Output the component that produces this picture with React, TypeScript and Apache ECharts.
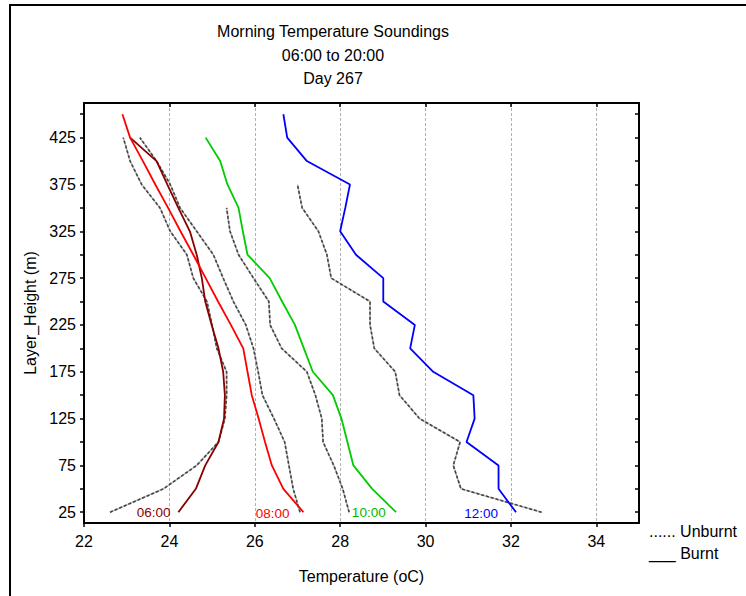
import React, { useEffect, useRef } from 'react';
import * as echarts from 'echarts';

// Heights (m) at which soundings were taken
const HEIGHTS = [25, 50, 75, 100, 125, 150, 175, 200, 225, 250, 275, 300, 325, 350, 375, 400, 425, 450];

// Temperatures (oC), listed from the lowest height upward
const burnt0600 = [24.21, 24.62, 24.84, 25.15, 25.28, 25.3, 25.26, 25.15, 24.99, 24.84, 24.76, 24.64, 24.48, 24.21, 23.95, 23.7, 23.08];
const unburnt0600 = [22.61, 23.86, 24.64, 25.15, 25.3, 25.34, 25.34, 25.11, 25.0, 24.88, 24.56, 24.41, 24.02, 23.78, 23.35, 23.08, 22.92];
const burnt0800 = [27.14, 26.67, 26.4, 26.24, 26.09, 25.93, 25.83, 25.73, 25.44, 25.14, 24.85, 24.56, 24.26, 23.97, 23.67, 23.38, 23.08, 22.9];
const unburnt0800 = [27.06, 26.9, 26.8, 26.7, 26.45, 26.18, 26.08, 25.97, 25.79, 25.5, 25.26, 25.03, 24.64, 24.25, 24.02, 23.7, 23.31];
const burnt1000 = [29.31, 28.75, 28.31, 28.17, 28.03, 27.83, 27.36, 27.15, 26.94, 26.64, 26.35, 25.83, 25.72, 25.62, 25.36, 25.19, 24.85];
const unburnt1000 = [28.21, 28.06, 27.85, 27.6, 27.57, 27.42, 27.22, 26.63, 26.36, 26.33, 25.97, 25.62, 25.42, 25.34];
const burnt1200 = [32.12, 31.71, 31.71, 30.96, 31.15, 31.12, 30.18, 29.64, 29.75, 29.01, 29.01, 28.37, 28.0, 28.12, 28.23, 27.22, 26.76, 26.67];
const unburnt1200 = [32.72, 30.83, 30.65, 30.81, 29.86, 29.39, 29.29, 28.8, 28.7, 28.7, 27.79, 27.69, 27.49, 27.11, 27.0];

// Time labels placed in the plot
const timeLabels = ['06:00', '08:00', '10:00', '12:00'];
const labelTemps = [23.63, 26.42, 28.67, 31.3];
const labelHeights = [25, 24, 24.5, 23.5];

// Axis ticks
const xTicks = [22, 24, 26, 28, 30, 32, 34];
const yTickValues = [25, 50, 75, 100, 125, 150, 175, 200, 225, 250, 275, 300, 325, 350, 375, 400, 425, 450];
const yLabelValues = [25, 75, 125, 175, 225, 275, 325, 375, 425];

const FONT = '"Liberation Sans", Arial, sans-serif';

const COLORS = ['#880000', '#ff0000', '#00cc00', '#0000ff'];
const LABEL_COLORS = ['#8a0000', '#ff0000', '#00b800', '#0000ff'];

function pairs(temps: number[]) {
  return temps.map((t, i) => [t, HEIGHTS[i]]);
}

export default function App() {
  const ref = useRef<HTMLDivElement>(null);

  useEffect(() => {
    if (!ref.current) return;
    const chart = echarts.init(ref.current, null, { renderer: 'svg' });

    const burnt = [burnt0600, burnt0800, burnt1000, burnt1200];
    const unburnt = [unburnt0600, unburnt0800, unburnt1000, unburnt1200];

    const series: any[] = [];
    unburnt.forEach((u) => {
      series.push({
        type: 'line',
        data: pairs(u),
        symbol: 'none',
        silent: true,
        z: 2,
        lineStyle: { color: '#bdbdbd', width: 1.6 },
      });
      series.push({
        type: 'line',
        data: pairs(u),
        symbol: 'none',
        silent: true,
        z: 3,
        lineStyle: { color: '#444', width: 1.6, type: [3, 2] },
      });
    });
    burnt.forEach((b, i) => {
      series.push({
        type: 'line',
        data: pairs(b),
        symbol: 'none',
        silent: true,
        z: 4,
        lineStyle: { color: COLORS[i], width: 1.8 },
      });
    });
    series.push({
      type: 'scatter',
      symbolSize: 1,
      silent: true,
      z: 5,
      itemStyle: { color: 'rgba(0,0,0,0)', opacity: 1 },
      data: timeLabels.map((t, i) => ({
        value: [labelTemps[i], labelHeights[i]],
        name: t,
        label: { color: LABEL_COLORS[i] },
      })),
      label: {
        show: true,
        position: 'inside',
        formatter: (p: any) => p.name,
        fontSize: 13.5,
        fontFamily: FONT,
        opacity: 1,
        textBorderWidth: 0,
      },
    });

    const option: any = {
      animation: false,
      backgroundColor: '#fff',
      textStyle: { fontFamily: FONT },
      grid: {
        left: 84,
        top: 103,
        width: 555,
        height: 420,
        containLabel: false,
        outerBoundsMode: 'none',
      },
      xAxis: [
        {
          type: 'value',
          position: 'bottom',
          min: 22,
          max: 35,
          interval: 2,
          name: 'Temperature (oC)',
          nameLocation: 'middle',
          nameGap: 45,
          nameTextStyle: { color: '#000', fontSize: 16, fontFamily: FONT },
          axisLine: { show: true, lineStyle: { color: '#000', width: 2 } },
          axisTick: { show: true, inside: false, length: 4, lineStyle: { color: '#000', width: 1.5 } },
          axisLabel: {
            color: '#000',
            fontSize: 16,
            fontFamily: FONT,
            margin: 10,
            showMaxLabel: false,
            formatter: (v: number) => (xTicks.indexOf(v) >= 0 ? String(v) : ''),
          },
          splitLine: { show: true, lineStyle: { color: '#b0b0b0', width: 1, type: [3, 2] } },
        },
        {
          type: 'value',
          position: 'top',
          min: 22,
          max: 35,
          interval: 2,
          axisLine: { show: true, lineStyle: { color: '#000', width: 2 } },
          axisTick: { show: true, inside: true, length: 4, lineStyle: { color: '#000', width: 1.5 } },
          axisLabel: { show: false },
          splitLine: { show: false },
        },
      ],
      yAxis: [
        {
          type: 'value',
          position: 'left',
          min: 13.5,
          max: 462,
          name: 'Layer_Height (m)',
          nameLocation: 'middle',
          nameGap: 43,
          nameTextStyle: { color: '#000', fontSize: 16, fontFamily: FONT },
          axisLine: { show: true, lineStyle: { color: '#000', width: 2 } },
          axisTick: {
            show: true,
            inside: false,
            length: 4,
            customValues: yTickValues,
            lineStyle: { color: '#000', width: 1.5 },
          },
          axisLabel: {
            color: '#000',
            fontSize: 16,
            fontFamily: FONT,
            margin: 8,
            customValues: yLabelValues,
          },
          splitLine: { show: false },
        },
        {
          type: 'value',
          position: 'right',
          min: 13.5,
          max: 462,
          axisLine: { show: true, lineStyle: { color: '#000', width: 2 } },
          axisTick: {
            show: true,
            inside: true,
            length: 4,
            customValues: yTickValues,
            lineStyle: { color: '#000', width: 1.5 },
          },
          axisLabel: { show: false },
          splitLine: { show: false },
        },
      ],
      graphic: [
        {
          type: 'polyline',
          shape: { points: [[10, 596], [10, 5], [746, 5]] },
          style: { stroke: '#000', lineWidth: 2, fill: 'none' },
          silent: true,
        },
        {
          type: 'text',
          x: 333,
          y: 31,
          style: {
            text: 'Morning Temperature Soundings',
            fill: '#000',
            font: '16px ' + FONT,
            textAlign: 'center',
            textVerticalAlign: 'middle',
          },
        },
        {
          type: 'text',
          x: 333,
          y: 55,
          style: {
            text: '06:00 to 20:00',
            fill: '#000',
            font: '16px ' + FONT,
            textAlign: 'center',
            textVerticalAlign: 'middle',
          },
        },
        {
          type: 'text',
          x: 333,
          y: 78,
          style: {
            text: 'Day 267',
            fill: '#000',
            font: '16px ' + FONT,
            textAlign: 'center',
            textVerticalAlign: 'middle',
          },
        },
        {
          type: 'text',
          x: 649,
          y: 531,
          style: {
            text: '...... Unburnt',
            fill: '#000',
            font: '16px ' + FONT,
            textAlign: 'left',
            textVerticalAlign: 'middle',
          },
        },
        {
          type: 'text',
          x: 649,
          y: 553,
          style: {
            text: '___ Burnt',
            fill: '#000',
            font: '16px ' + FONT,
            textAlign: 'left',
            textVerticalAlign: 'middle',
          },
        },
      ],
      series,
    };

    chart.setOption(option);
    return () => {
      chart.dispose();
    };
  }, []);

  return (
    <div
      ref={ref}
      style={{ position: 'fixed', left: 0, top: 0, width: 746, height: 596, background: '#fff' }}
    />
  );
}
